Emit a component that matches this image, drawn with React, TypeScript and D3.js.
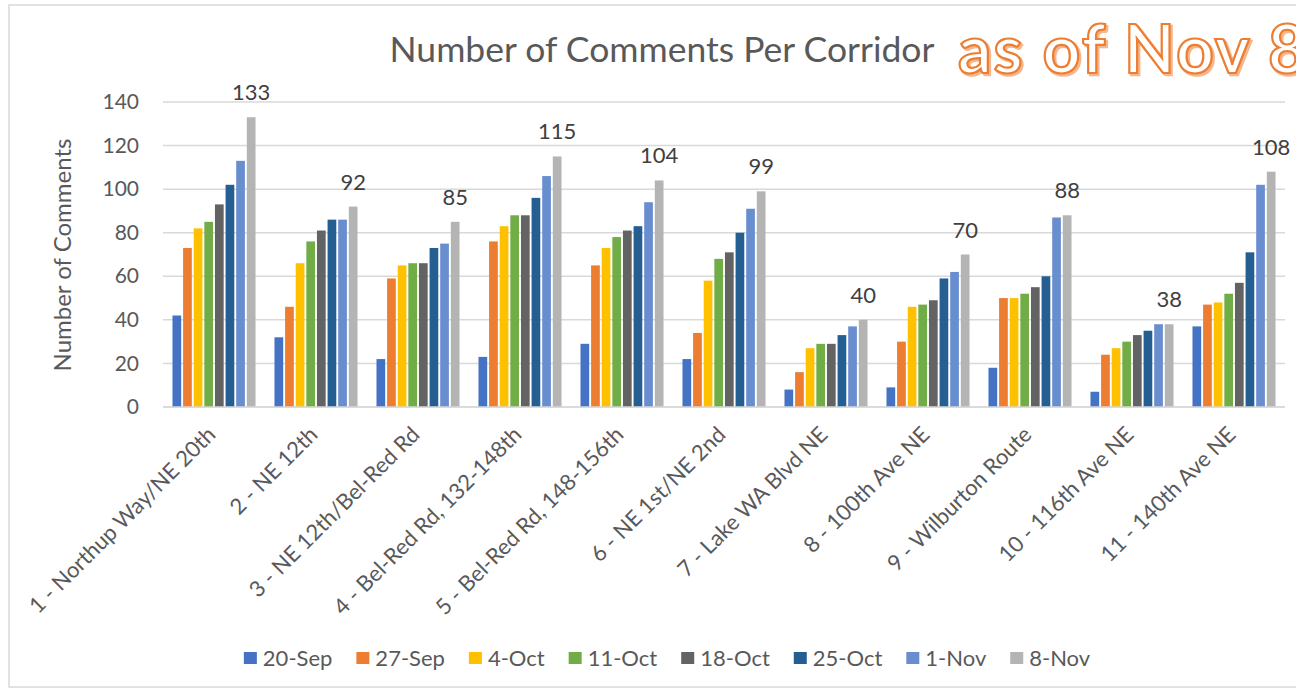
import React from "react";
import * as d3 from "d3";

const corridors = [
  "1 - Northup Way/NE 20th",
  "2 - NE 12th",
  "3 - NE 12th/Bel-Red Rd",
  "4 - Bel-Red Rd, 132-148th",
  "5 - Bel-Red Rd, 148-156th",
  "6 - NE 1st/NE 2nd",
  "7 - Lake WA Blvd NE",
  "8 - 100th Ave NE",
  "9 - Wilburton Route",
  "10 - 116th Ave NE",
  "11 - 140th Ave NE",
];

const weeks = ["20-Sep", "27-Sep", "4-Oct", "11-Oct", "18-Oct", "25-Oct", "1-Nov", "8-Nov"];

const sep20 = [42, 32, 22, 23, 29, 22, 8, 9, 18, 7, 37];
const sep27 = [73, 46, 59, 76, 65, 34, 16, 30, 50, 24, 47];
const oct4 = [82, 66, 65, 83, 73, 58, 27, 46, 50, 27, 48];
const oct11 = [85, 76, 66, 88, 78, 68, 29, 47, 52, 30, 52];
const oct18 = [93, 81, 66, 88, 81, 71, 29, 49, 55, 33, 57];
const oct25 = [102, 86, 73, 96, 83, 80, 33, 59, 60, 35, 71];
const nov1 = [113, 86, 75, 106, 94, 91, 37, 62, 87, 38, 102];
const nov8 = [133, 92, 85, 115, 104, 99, 40, 70, 88, 38, 108];

const seriesValues = [sep20, sep27, oct4, oct11, oct18, oct25, nov1, nov8];
const colors = ["#4472C4", "#ED7D31", "#FFC000", "#70AD47", "#636363", "#255E91", "#698ED0", "#B4B4B4"];
const yTicks = [0, 20, 40, 60, 80, 100, 120, 140];

const FONT = "Lato, 'Open Sans', sans-serif";
const TEXT = "#595959";

// measure legend labels so the row can be centred like Excel does
function textWidth(s: string, font: string) {
  const ctx = document.createElement("canvas").getContext("2d");
  if (!ctx) return s.length * 11;
  ctx.font = font;
  return ctx.measureText(s).width;
}

export default function App() {
  const width = 1296;
  const height = 690;

  const y = d3.scaleLinear().domain([0, 140]).range([407, 102]);
  const x0 = d3.scaleBand().domain(corridors).range([163, 1285]).paddingInner(0.186).paddingOuter(0.093);
  const x1 = d3.scaleBand().domain(weeks).range([0, x0.bandwidth()]).paddingInner(0.18);

  // legend layout
  const legendFont = `22px Lato`;
  const widths = weeks.map((w) => textWidth(w, legendFont));
  const itemW = widths.map((w) => 13 + 6 + w);
  const gap = 24;
  const total = d3.sum(itemW) + gap * (weeks.length - 1);
  let cursor = 667 - total / 2;
  const legendX = itemW.map((w) => {
    const pos = cursor;
    cursor += w + gap;
    return pos;
  });

  return (
    <svg
      width={width}
      height={height}
      style={{ position: "absolute", left: 0, top: 0, background: "#fff" }}
      fontFamily={FONT}
    >
      <rect x={0} y={0} width={width} height={height} fill="#fff" />
      <rect x={9} y={5} width={1400} height={682} fill="none" stroke="#D9D9D9" strokeWidth={1.5} />

      {/* title */}
      <text x={662} y={62} textAnchor="middle" fontSize={35.5} fill={TEXT}>
        Number of Comments Per Corridor
      </text>
      <g fontFamily="Lato, sans-serif" fontWeight={700} fontSize={66} letterSpacing={2}>
        <text x={960} y={75} fill="#ED7D31" stroke="#ED7D31" strokeWidth={2.5} opacity={0.55}>
          as of Nov 8
        </text>
        <text x={958} y={73} fill="#fff" stroke="#ED7D31" strokeWidth={2.2}>
          as of Nov 8
        </text>
      </g>

      {/* gridlines + y ticks */}
      {yTicks.map((t) => (
        <g key={t}>
          <line x1={163} x2={1285} y1={y(t)} y2={y(t)} stroke="#D9D9D9" strokeWidth={1.5} />
          <text x={139} y={y(t)} dy="0.34em" textAnchor="end" fontSize={21} fill={TEXT}>
            {t}
          </text>
        </g>
      ))}

      <text
        transform={`translate(63,255) rotate(-90)`}
        textAnchor="middle"
        dy="0.35em"
        fontSize={24}
        fill={TEXT}
      >
        Number of Comments
      </text>

      {/* bars */}
      {seriesValues.map((vals, si) => (
        <g key={weeks[si]} fill={colors[si]}>
          {vals.map((v, ci) => (
            <rect
              key={ci}
              x={(x0(corridors[ci]) || 0) + (x1(weeks[si]) || 0)}
              y={y(v)}
              width={x1.bandwidth()}
              height={y(0) - y(v)}
            />
          ))}
        </g>
      ))}

      {/* data labels on the latest series */}
      {nov8.map((v, ci) => (
        <text
          key={ci}
          x={(x0(corridors[ci]) || 0) + (x1("8-Nov") || 0) + x1.bandwidth() / 2}
          y={y(v) - 17}
          textAnchor="middle"
          fontSize={22}
          fill="#404040"
        >
          {v}
        </text>
      ))}

      {/* x axis */}
      <line x1={163} x2={1285} y1={y(0)} y2={y(0)} stroke="#D9D9D9" strokeWidth={1.5} />
      {corridors.map((c) => (
        <text
          key={c}
          transform={`translate(${(x0(c) || 0) + x0.bandwidth() / 2 + 3},436) rotate(-45)`}
          textAnchor="end"
          fontSize={22}
          fill={TEXT}
        >
          {c}
        </text>
      ))}

      {/* legend */}
      {weeks.map((w, i) => (
        <g key={w} transform={`translate(${legendX[i]},658)`}>
          <rect x={0} y={-6} width={13} height={12} fill={colors[i]} />
          <text x={19} dy="0.35em" fontSize={22} fill={TEXT}>
            {w}
          </text>
        </g>
      ))}
    </svg>
  );
}
